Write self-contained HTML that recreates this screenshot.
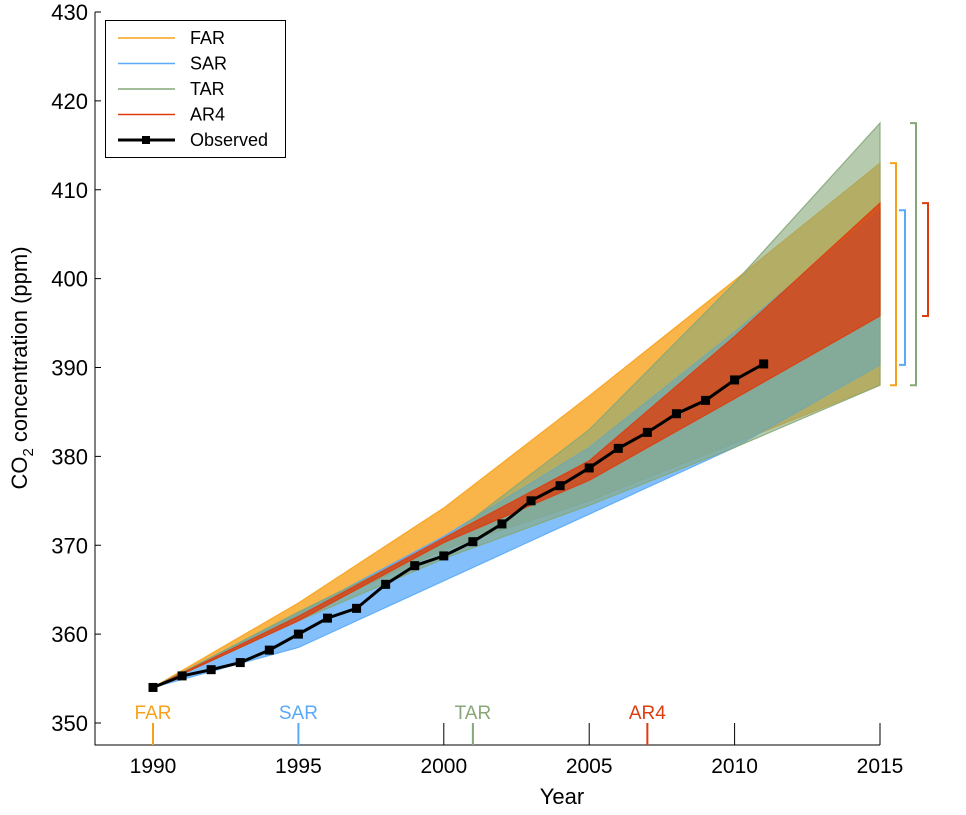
<!DOCTYPE html>
<html><head><meta charset="utf-8"><style>
body{margin:0;background:#fff;}
svg text{font-family:"Liberation Sans",Arial,sans-serif;}
</style></head><body>
<svg id="chart" width="966" height="810" xmlns="http://www.w3.org/2000/svg">
<g id="bands"></g><g id="obs"></g><g id="axes"></g><g id="brackets"></g><g id="legend"></g>
</svg>
<script>
const years=[1990,1995,2000,2005,2010,2015];
const farUpper=[354,363.5,374.2,386.8,399.8,413];
const farLower=[354,362,369.5,375,381.5,388];
const sarUpper=[354,362.3,371,381,394,407.7];
const sarLower=[354,358.5,366,373.5,381,390.3];
const tarUpper=[354,362.5,370.5,383,399.5,417.5];
const tarLower=[354,361.5,368.5,374.5,381,388];
const ar4Upper=[354,362,370.8,379.5,393.5,408.5];
const ar4Lower=[354,361.5,370.3,377.3,386.5,395.8];
const obsYears=[1990,1991,1992,1993,1994,1995,1996,1997,1998,1999,2000,2001,2002,2003,2004,2005,2006,2007,2008,2009,2010,2011];
const obsValues=[354.0,355.3,356.0,356.8,358.2,360.0,361.8,362.9,365.6,367.7,368.8,370.4,372.4,375.0,376.7,378.7,380.9,382.7,384.8,386.3,388.6,390.4];
const yTicks=[350,360,370,380,390,400,410,420,430];
const xTicks=[1990,1995,2000,2005,2010,2015];
const reports=["FAR","SAR","TAR","AR4"];
const reportYears=[1990,1995,2001,2007];
const rangeLow=[388,390.3,388,395.8];
const rangeHigh=[413,407.7,417.5,408.5];

const NS="http://www.w3.org/2000/svg";
const X=y=>153+(y-1990)*(880-153)/25;
const Y=v=>723-(v-350)*(723-12)/80;
function mk(tag,attrs,parent){const e=document.createElementNS(NS,tag);for(const k in attrs)e.setAttribute(k,attrs[k]);parent.appendChild(e);return e;}
const bands=document.getElementById('bands');
const colors={FAR:'#f8a21c',SAR:'#5aaaf8',TAR:'#86a878',AR4:'#dd3d0e'};
function band(name,up,lo,alpha){
 let d='M'+years.map((y,i)=>X(y)+','+Y(up[i])).join(' L');
 d+=' L'+years.slice().reverse().map((y,i)=>X(y)+','+Y(lo[lo.length-1-i])).join(' L')+' Z';
 const p=mk('path',{d:d,fill:colors[name],'fill-opacity':alpha,stroke:colors[name],'stroke-width':1.2,'stroke-opacity':0.9},bands);
 
 
}
band('FAR',farUpper,farLower,0.8);
band('SAR',sarUpper,sarLower,0.75);
band('TAR',tarUpper,tarLower,0.6);
band('AR4',ar4Upper,ar4Lower,0.8);

const obs=document.getElementById('obs');
const ol=mk('polyline',{points:obsYears.map((y,i)=>X(y)+','+Y(obsValues[i])).join(' '),fill:'none',stroke:'#000','stroke-width':3},obs);


obsYears.forEach((y,i)=>{
 const r=mk('rect',{x:X(y)-4.5,y:Y(obsValues[i])-4.5,width:9,height:9,fill:'#000'},obs);
 
 
});

const ax=document.getElementById('axes');
const axl=mk('path',{d:'M95,12 L95,745 L880,745',fill:'none',stroke:'#000','stroke-width':1},ax);


yTicks.forEach(v=>{
 mk('line',{x1:95,x2:101,y1:Y(v),y2:Y(v),stroke:'#000'},ax);
 const t=mk('text',{x:88,y:Y(v)+8,'text-anchor':'end','font-size':22},ax);t.textContent=v;
 
 
});
xTicks.forEach(v=>{
 if(v!==1990&&v!==1995) mk('line',{x1:X(v),x2:X(v),y1:723,y2:745,stroke:'#000'},ax);
 const t=mk('text',{x:X(v),y:773,'text-anchor':'middle','font-size':21},ax);t.textContent=v;
 
 
});
reports.forEach((r,i)=>{
 const c=colors[r];
 mk('line',{x1:X(reportYears[i]),x2:X(reportYears[i]),y1:723,y2:745,stroke:c,'stroke-width':2},ax);
 const t=mk('text',{x:X(reportYears[i]),y:719,'text-anchor':'middle','font-size':19,fill:c},ax);t.textContent=r;
 
 
});
const xt=mk('text',{x:562,y:804,'text-anchor':'middle','font-size':22},ax);xt.textContent='Year';


const yt=mk('text',{transform:'translate(27,368) rotate(-90)','text-anchor':'middle','font-size':22},ax);
yt.innerHTML='CO<tspan font-size="15" dy="6">2</tspan><tspan dy="-6"> concentration (ppm)</tspan>';



const br=document.getElementById('brackets');
const bx={FAR:896,SAR:905,TAR:916,AR4:928};
reports.forEach((r,i)=>{
 const x=bx[r],a=Y(rangeHigh[i]),b=Y(rangeLow[i]);
 const p=mk('path',{d:`M${x-6},${a} L${x},${a} L${x},${b} L${x-6},${b}`,fill:'none',stroke:colors[r],'stroke-width':2},br);
 
 
});

const lg=document.getElementById('legend');
const box=mk('rect',{x:105.5,y:20.5,width:180,height:137,fill:'#fff',stroke:'#000','stroke-width':1},lg);


reports.concat(['Observed']).forEach((r,i)=>{
 const y=38+i*25.5;
 const c=r==='Observed'?'#000':colors[r];
 mk('line',{x1:118,x2:175,y1:y,y2:y,stroke:c,'stroke-width':r==='Observed'?3:1.5},lg);
 if(r==='Observed') mk('rect',{x:142,y:y-4,width:8,height:8,fill:'#000'},lg);
 const t=mk('text',{x:190,y:y+6,'font-size':18},lg);t.textContent=r;
 
 
});
</script>
</body></html>
